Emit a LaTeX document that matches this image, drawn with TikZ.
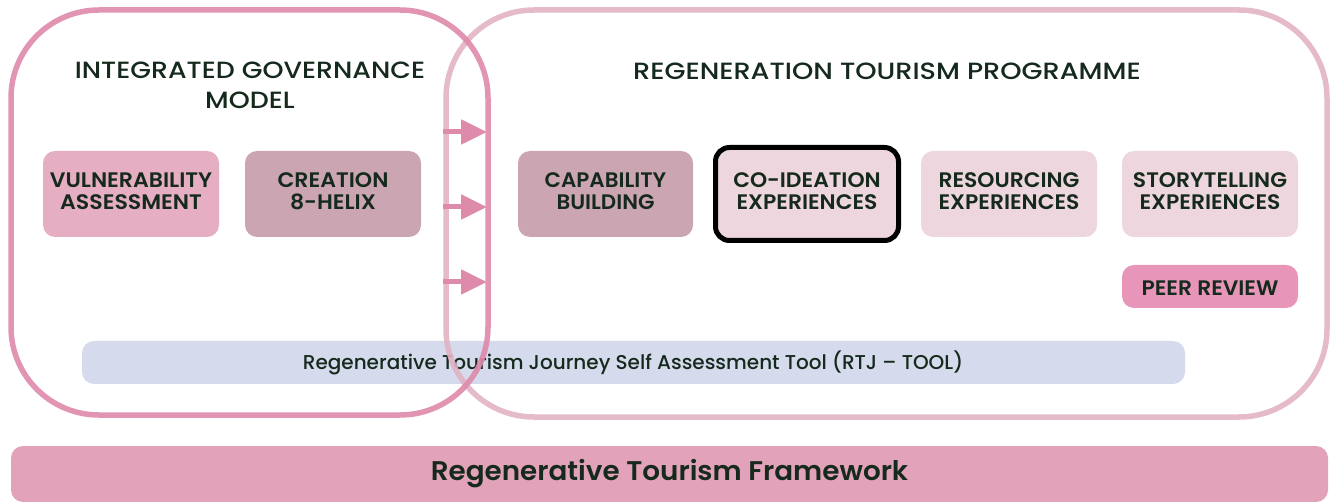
\documentclass[tikz,border=0pt]{standalone}
\usepackage{fontspec}
\setmainfont{Poppins}
\newfontfamily\pmed{Poppins Medium}
\newfontfamily\psemi{Poppins SemiBold}
\usetikzlibrary{arrows.meta}
\definecolor{txt}{HTML}{15291D}
\definecolor{lout}{HTML}{DE8AAB}
\definecolor{rout}{HTML}{E2B3C3}
\definecolor{fvul}{HTML}{E6AEC3}
\definecolor{fmid}{HTML}{CCA5B3}
\definecolor{flight}{HTML}{EDD6DD}
\definecolor{fpeer}{HTML}{E795B8}
\definecolor{frtj}{HTML}{D5DBEC}
\definecolor{fbar}{HTML}{E2A2B9}
\newcommand{\wide}[2]{\scalebox{#1}[1]{#2}}
\tikzset{
  lab/.style={text=txt, font=\psemi\fontsize{21}{22.5}\selectfont, align=center},
  card/.style={fill=#1, rounded corners=12pt, draw=none},
  ttl/.style={text=txt, font=\pmed\fontsize{23.5}{30}\selectfont, align=center},
  flow/.style={draw=lout, line width=5pt, -{Triangle[length=26pt,width=24pt]}},
}
\begin{document}
\begin{tikzpicture}[x=1pt,y=-1pt]
\useasboundingbox (0,0) rectangle (1333,502);
% cards
\path[card=fvul] (43,151) rectangle (219,237);
\node[lab] (vul) at (131,191) {\wide{1.05}{VULNERABILITY}\\\wide{1.05}{ASSESSMENT}};
\path[card=fmid] (245,151) rectangle (421,237);
\node[lab] (cre) at (333,191) {\wide{1.05}{CREATION}\\\wide{1.05}{8-HELIX}};
\path[card=fmid] (518,151) rectangle (693,237);
\node[lab] (cap) at (605.5,191) {\wide{1.02}{CAPABILITY}\\\wide{1.02}{BUILDING}};
\path[fill=flight, draw=black, line width=5pt, rounded corners=14pt] (715.5,147.5) rectangle (898.5,240.5);
\node[lab] (coi) at (807,191) {\wide{1.04}{CO-IDEATION}\\\wide{1.04}{EXPERIENCES}};
\path[card=flight] (921,151) rectangle (1097,237);
\node[lab] (res) at (1009,191) {\wide{1.04}{RESOURCING}\\\wide{1.04}{EXPERIENCES}};
\path[card=flight] (1122,151) rectangle (1298,237);
\node[lab] (sto) at (1210,191) {\wide{1.04}{STORYTELLING}\\\wide{1.04}{EXPERIENCES}};
\path[card=fpeer] (1122,265) rectangle (1298,308);
\node[lab] (peer) at (1210,288.5) {\wide{1.04}{PEER REVIEW}};
\path[card=frtj] (82,341) rectangle (1185,384);
\node[text=txt, font=\pmed\fontsize{20}{22}\selectfont] (rtj) at (633,363) {Regenerative Tourism Journey Self Assessment Tool (RTJ – TOOL)};
% bottom bar
\path[card=fbar] (11,446) rectangle (1328,502);
\node[text=txt, font=\psemi\fontsize{27}{30}\selectfont] (frame) at (669.5,474) {\wide{1.03}{Regenerative Tourism Framework}};
% titles
\node[ttl] (tl) at (250,85) {\wide{1.14}{INTEGRATED GOVERNANCE}\\\wide{1.14}{MODEL}};
\node[ttl] (tr) at (887,71) {\wide{1.155}{REGENERATION TOURISM PROGRAMME}};
% outlines
\draw[rout, line width=5.5pt, rounded corners=88pt, opacity=0.9] (446,10) rectangle (1327,417);
\draw[lout, line width=5.5pt, rounded corners=88pt, opacity=0.9] (11,10) rectangle (488,415);
% arrows
\coordinate (a1s) at (443,132); \coordinate (a1e) at (487,132);
\coordinate (a2s) at (443,207); \coordinate (a2e) at (487,207);
\coordinate (a3s) at (443,282); \coordinate (a3e) at (487,282);
\draw[flow] (a1s) -- (a1e);
\draw[flow] (a2s) -- (a2e);
\draw[flow] (a3s) -- (a3e);
\end{tikzpicture}
\end{document}
